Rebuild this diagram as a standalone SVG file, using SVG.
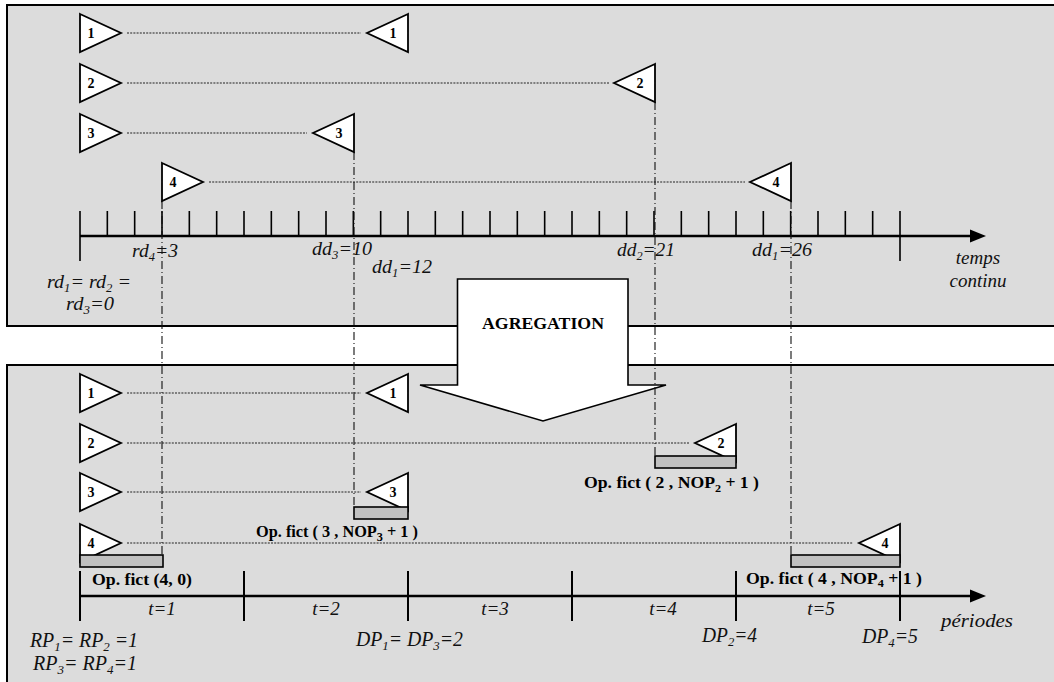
<svg xmlns="http://www.w3.org/2000/svg" width="1054" height="682" viewBox="0 0 1054 682">
<style>
.panel{fill:#dcdcdc;stroke:#000;stroke-width:2}
.tri{fill:#fff;stroke:#000;stroke-width:1.8;stroke-linejoin:miter}
.box{fill:#c0c0c0;stroke:#000;stroke-width:1.6}
.dot{stroke:#222;stroke-width:1;stroke-dasharray:2,1.2;fill:none}
.dd{stroke:#111;stroke-width:1.1;stroke-dasharray:8,3,1,3;fill:none}
.axis{stroke:#000;stroke-width:2.6;fill:none}
.tick{stroke:#000;stroke-width:1.6;fill:none}
.ptick{stroke:#000;stroke-width:2;fill:none}
.num{font-family:"Liberation Serif","Times New Roman",serif;font-weight:bold;font-size:14px;text-anchor:middle;fill:#000}
.lab{font-family:"Liberation Serif","Times New Roman",serif;font-style:italic;font-size:19px;fill:#111}
.big{font-family:"Liberation Serif","Times New Roman",serif;font-style:italic;font-size:20px;fill:#111}
.op{font-family:"Liberation Serif","Times New Roman",serif;font-weight:bold;font-size:16px;fill:#000}
.ag{font-family:"Liberation Serif","Times New Roman",serif;font-weight:bold;font-size:17px;fill:#000;text-anchor:middle}
</style>
<rect x="0" y="0" width="1054" height="682" fill="#fff"/>
<g id="panels">
<rect class="panel" x="7" y="5" width="1060" height="321"/>
<rect class="panel" x="7" y="365" width="1060" height="330"/>
</g>
<g id="agregation">
<polygon points="457.5,279 628,279 628,385 666,385 543,421 420,385 457.5,385" fill="#fff" stroke="#000" stroke-width="1.6"/>
<text class="ag" x="543" y="329" textLength="122" lengthAdjust="spacingAndGlyphs">AGREGATION</text>
</g>
<g id="axis-continu">
<path class="axis" d="M80 236H972"/>
<polygon points="970,229.5 986,236 970,242.5" fill="#000"/>
<path class="tick" d="M80 211V261M900 211V261M107.33 211V236M134.67 211V236M162 211V236M189.33 211V236M216.67 211V236M244 211V236M271.33 211V236M298.67 211V236M326 211V236M353.33 211V236M380.67 211V236M408 211V236M435.33 211V236M462.67 211V236M490 211V236M517.33 211V236M544.67 211V236M572 211V236M599.33 211V236M626.67 211V236M654 211V236M681.33 211V236M708.67 211V236M736 211V236M763.33 211V236M790.67 211V236M818 211V236M845.33 211V236M872.67 211V236"/>
</g>
<g id="axis-periodes">
<path class="axis" d="M80 596H972"/>
<polygon points="970,589.5 986,596 970,602.5" fill="#000"/>
<path class="ptick" d="M80 571V621M244 571V621M408 571V621M572 571V621M736 571V621M900 571V621"/>
</g>
<g id="connectors">
<path class="dot" d="M127 33H361M127 83H609M127 133H307M209 182H745"/>
<path class="dot" d="M127 393H361M127 443H689M127 492H361M127 543H853"/>
<path class="dd" d="M162 201V555M354 152V507M655 102V456M791 201V555"/>
</g>
<g id="fict-boxes">
<g id="box4a"><polygon class="tri" points="80,524 121,543 80,562"/><text class="num" x="91" y="548">4</text><rect class="box" x="80" y="555" width="83" height="12"/></g>
<g id="box3"><polygon class="tri" points="408,473 367,492 408,511"/><text class="num" x="393" y="497">3</text><rect class="box" x="354" y="507" width="54" height="12"/></g>
<g id="box2"><polygon class="tri" points="736,424 695,443 736,462"/><text class="num" x="721" y="448">2</text><rect class="box" x="655" y="456" width="81" height="12"/></g>
<g id="box4b"><polygon class="tri" points="900,524 859,543 900,562"/><text class="num" x="885" y="548">4</text><rect class="box" x="791" y="555" width="109" height="12"/></g>
</g>
<g id="top-start">
<g id="ts1"><polygon class="tri" points="80,14 121,33 80,52"/><text class="num" x="91" y="38">1</text></g>
<g id="ts2"><polygon class="tri" points="80,64 121,83 80,102"/><text class="num" x="91" y="88">2</text></g>
<g id="ts3"><polygon class="tri" points="80,114 121,133 80,152"/><text class="num" x="91" y="138">3</text></g>
<g id="ts4"><polygon class="tri" points="162,163 203,182 162,201"/><text class="num" x="173" y="187">4</text></g>
</g>
<g id="top-end">
<g id="te1"><polygon class="tri" points="408,14 367,33 408,52"/><text class="num" x="393" y="38">1</text></g>
<g id="te2"><polygon class="tri" points="655,64 614,83 655,102"/><text class="num" x="640" y="88">2</text></g>
<g id="te3"><polygon class="tri" points="354,114 313,133 354,152"/><text class="num" x="339" y="138">3</text></g>
<g id="te4"><polygon class="tri" points="791,163 750,182 791,201"/><text class="num" x="776" y="187">4</text></g>
</g>
<g id="bottom-start">
<g id="bs1"><polygon class="tri" points="80,374 121,393 80,412"/><text class="num" x="91" y="398">1</text></g>
<g id="bs2"><polygon class="tri" points="80,424 121,443 80,462"/><text class="num" x="91" y="448">2</text></g>
<g id="bs3"><polygon class="tri" points="80,473 121,492 80,511"/><text class="num" x="91" y="497">3</text></g>
</g>
<g id="bottom-end">
<g id="be1"><polygon class="tri" points="408,374 367,393 408,412"/><text class="num" x="393" y="398">1</text></g>
</g>
<g id="labels-top">
<text class="lab" x="132" y="257" textLength="46" lengthAdjust="spacingAndGlyphs">rd<tspan font-size="12" dy="4">4</tspan><tspan dy="-4">=3</tspan></text>
<text class="lab" x="312" y="255" textLength="60" lengthAdjust="spacingAndGlyphs">dd<tspan font-size="12" dy="4">3</tspan><tspan dy="-4">=10</tspan></text>
<text class="lab" x="372" y="273" textLength="60" lengthAdjust="spacingAndGlyphs">dd<tspan font-size="12" dy="4">1</tspan><tspan dy="-4">=12</tspan></text>
<text class="lab" x="617" y="256" textLength="58" lengthAdjust="spacingAndGlyphs">dd<tspan font-size="12" dy="4">2</tspan><tspan dy="-4">=21</tspan></text>
<text class="lab" x="752" y="256" textLength="60" lengthAdjust="spacingAndGlyphs">dd<tspan font-size="12" dy="4">1</tspan><tspan dy="-4">=26</tspan></text>
<text class="lab" x="47" y="288" textLength="84" lengthAdjust="spacingAndGlyphs">rd<tspan font-size="12" dy="4">1</tspan><tspan dy="-4">= rd</tspan><tspan font-size="12" dy="4">2</tspan><tspan dy="-4"> =</tspan></text>
<text class="lab" x="66" y="310" textLength="48" lengthAdjust="spacingAndGlyphs">rd<tspan font-size="12" dy="4">3</tspan><tspan dy="-4">=0</tspan></text>
<text class="lab" x="978" y="264" font-size="20" text-anchor="middle">temps</text>
<text class="lab" x="978" y="287" font-size="20" text-anchor="middle">continu</text>
</g>
<g id="labels-bottom">
<text class="op" x="92" y="585" font-size="18" textLength="100" lengthAdjust="spacingAndGlyphs">Op. fict (4, 0)</text>
<text class="op" x="256" y="537" font-size="17" textLength="162" lengthAdjust="spacingAndGlyphs">Op. fict ( 3 , NOP<tspan font-size="12" dy="4">3</tspan><tspan dy="-4"> + 1 )</tspan></text>
<text class="op" x="584" y="488" textLength="175" lengthAdjust="spacingAndGlyphs">Op. fict ( 2 , NOP<tspan font-size="11" dy="4">2</tspan><tspan dy="-4"> + 1 )</tspan></text>
<text class="op" x="746" y="584" textLength="176" lengthAdjust="spacingAndGlyphs">Op. fict ( 4 , NOP<tspan font-size="11" dy="3">4</tspan><tspan dy="-3"> + 1 )</tspan></text>
<text class="lab" x="162" y="615" text-anchor="middle">t=1</text>
<text class="lab" x="326" y="615" text-anchor="middle">t=2</text>
<text class="lab" x="495" y="615" text-anchor="middle">t=3</text>
<text class="lab" x="663" y="615" text-anchor="middle">t=4</text>
<text class="lab" x="821" y="615" text-anchor="middle">t=5</text>
<text class="lab" x="941" y="627" font-size="20" textLength="72" lengthAdjust="spacingAndGlyphs">périodes</text>
<text class="big" x="30" y="647" textLength="108" lengthAdjust="spacingAndGlyphs">RP<tspan font-size="13" dy="4">1</tspan><tspan dy="-4">= RP</tspan><tspan font-size="13" dy="4">2</tspan><tspan dy="-4"> =1</tspan></text>
<text class="big" x="33" y="670" textLength="104" lengthAdjust="spacingAndGlyphs">RP<tspan font-size="13" dy="4">3</tspan><tspan dy="-4">= RP</tspan><tspan font-size="13" dy="4">4</tspan><tspan dy="-4">=1</tspan></text>
<text class="big" x="356" y="646" textLength="107" lengthAdjust="spacingAndGlyphs">DP<tspan font-size="13" dy="4">1</tspan><tspan dy="-4">= DP</tspan><tspan font-size="13" dy="4">3</tspan><tspan dy="-4">=2</tspan></text>
<text class="big" x="702" y="642" textLength="55" lengthAdjust="spacingAndGlyphs">DP<tspan font-size="13" dy="4">2</tspan><tspan dy="-4">=4</tspan></text>
<text class="big" x="862" y="643" textLength="56" lengthAdjust="spacingAndGlyphs">DP<tspan font-size="13" dy="4">4</tspan><tspan dy="-4">=5</tspan></text>
</g>
</svg>
